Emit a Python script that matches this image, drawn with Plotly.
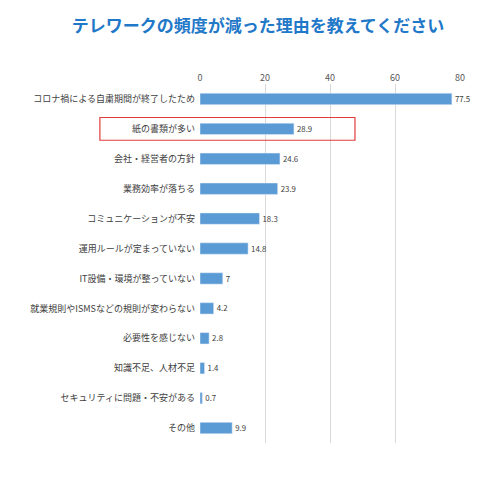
import plotly.graph_objects as go

categories = ["コロナ禍による自粛期間が終了したため", "紙の書類が多い", "会社・経営者の方針", "業務効率が落ちる",
              "コミュニケーションが不安", "運用ルールが定まっていない", "IT設備・環境が整っていない",
              "就業規則やISMSなどの規則が変わらない", "必要性を感じない", "知識不足、人材不足",
              "セキュリティに問題・不安がある", "その他"]
values = [77.5, 28.9, 24.6, 23.9, 18.3, 14.8, 7, 4.2, 2.8, 1.4, 0.7, 9.9]
labels = ["77.5", "28.9", "24.6", "23.9", "18.3", "14.8", "7", "4.2", "2.8", "1.4", "0.7", "9.9"]

fig = go.Figure(go.Bar(
    x=values, y=categories, orientation="h", marker_color="#5B9BD5", width=0.38,
    text=labels, textposition="outside", textfont=dict(size=9, color="#404040"), cliponaxis=False))

fig.update_layout(
    width=500, height=479, margin=dict(l=192, r=48, t=76, b=44),
    plot_bgcolor="white", paper_bgcolor="white", showlegend=False,
    font=dict(family="Noto Sans CJK JP", size=10, color="#404040"),
    title=dict(text="<b>テレワークの頻度が減った理由を教えてください</b>", x=0.5, y=0.975,
               xanchor="center", yanchor="top", font=dict(size=17, color="#1F78C8")),
    xaxis=dict(side="top", range=[0, 80], tickvals=[0, 20, 40, 60, 80], showgrid=True,
               gridcolor="#D9D9D9", zeroline=False, tickfont=dict(size=9, color="#595959")),
    yaxis=dict(autorange="reversed", ticks="", ticksuffix="  ", automargin=False,
               tickfont=dict(size=9, color="#404040")),
    shapes=[dict(type="rect", xref="paper", yref="y", x0=-0.385, x1=0.596, y0=0.62, y1=1.38,
                 line=dict(color="#E03C3C", width=1.2))])

fig.write_html("out.html")
